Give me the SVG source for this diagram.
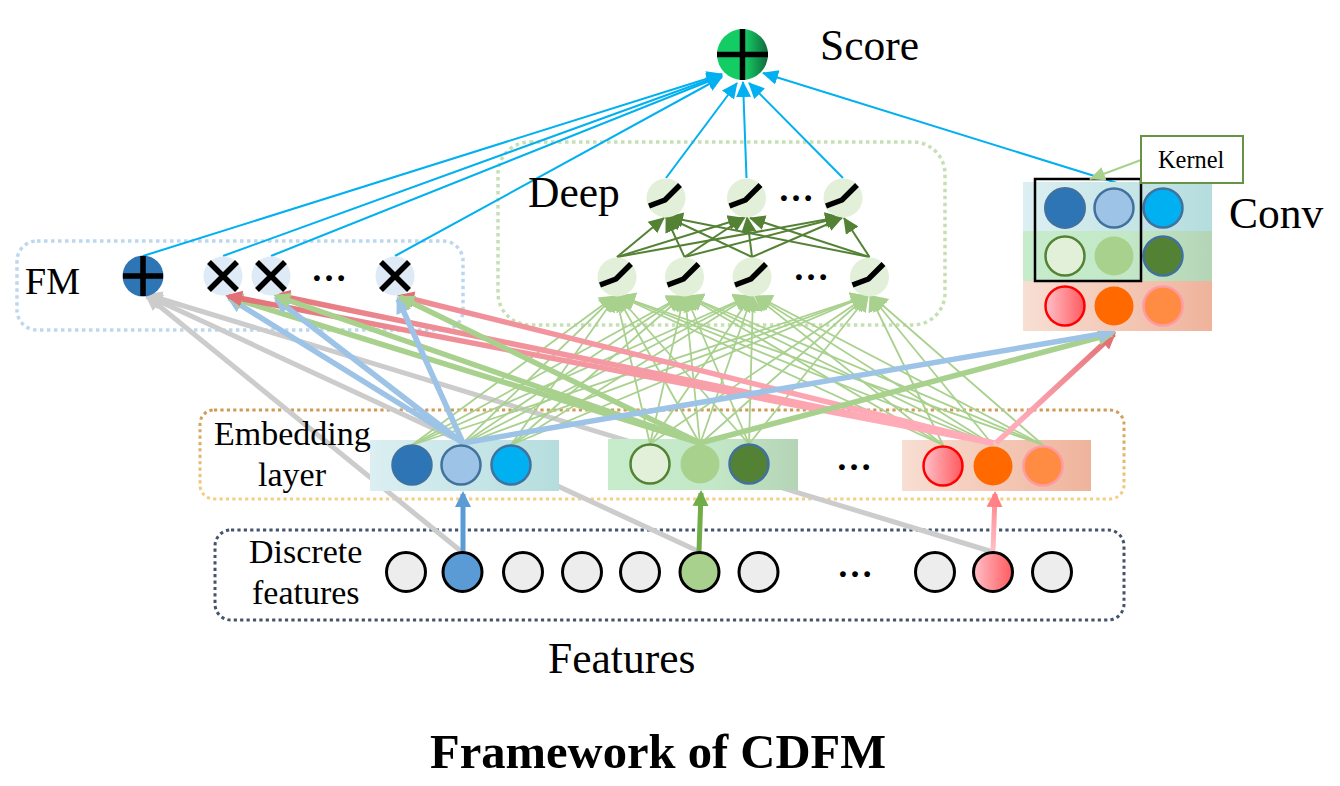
<svg xmlns="http://www.w3.org/2000/svg" width="1340" height="786" viewBox="0 0 1340 786">
<style>
text{font-family:"Liberation Serif","Times New Roman",serif;fill:#000}
.t43{font-size:43.500px}.t34{font-size:34px}.dots{font-size:36px;font-weight:bold}
.box{fill:none;stroke-width:3.500;stroke-dasharray:3.500 3.500}
.box2{fill:none;stroke-width:3;stroke-dasharray:3.200 3.200}
.sc{stroke:#00B0F0;stroke-width:2;marker-end:url(#hSky)}
.dg{stroke:#548235;stroke-width:2;marker-end:url(#hDark)}
.lg{stroke:#A9D18E;stroke-width:1.800;marker-end:url(#hLight)}
.gy{stroke:#CCCCCC;stroke-width:5;marker-end:url(#hGray)}
.bl{stroke:#9DC3E6;stroke-width:5.500;marker-end:url(#hBlue)}
.gn{stroke:#A9D18E;stroke-width:5.500;marker-end:url(#hGreen)}
.rd{stroke-width:5.500;marker-end:url(#hRed)}
.act{fill:none;stroke:#000;stroke-width:5.500}
.sym{stroke:#000;stroke-width:5.500;fill:none}
.nd{fill:#E2F0D9}.xn{fill:#DEEBF7}
.ft{fill:#EDEDED;stroke:#000;stroke-width:3}
</style>
<defs>
<marker id="hSky" markerUnits="userSpaceOnUse" markerWidth="22" markerHeight="22" refX="15" refY="11" orient="auto"><path d="M0,3.500 L16,11 L0,18.500Z" fill="#00B0F0"/></marker>
<marker id="hDark" markerUnits="userSpaceOnUse" markerWidth="22" markerHeight="22" refX="15" refY="11" orient="auto"><path d="M0,3.500 L16,11 L0,18.500Z" fill="#548235"/></marker>
<marker id="hLight" markerUnits="userSpaceOnUse" markerWidth="24" markerHeight="24" refX="15" refY="12" orient="auto"><path d="M0,3 L16,12 L0,21Z" fill="#A9D18E"/></marker>
<marker id="hGray" markerUnits="userSpaceOnUse" markerWidth="24" markerHeight="24" refX="14" refY="12" orient="auto"><path d="M0,4 L17,12 L0,20Z" fill="#CCCCCC"/></marker>
<marker id="hBlue" markerUnits="userSpaceOnUse" markerWidth="24" markerHeight="24" refX="14" refY="12" orient="auto"><path d="M0,4 L17,12 L0,20Z" fill="#9DC3E6"/></marker>
<marker id="hGreen" markerUnits="userSpaceOnUse" markerWidth="24" markerHeight="24" refX="14" refY="12" orient="auto"><path d="M0,4 L17,12 L0,20Z" fill="#A9D18E"/></marker>
<marker id="hRed" markerUnits="userSpaceOnUse" markerWidth="24" markerHeight="24" refX="14" refY="12" orient="auto"><path d="M0,4 L17,12 L0,20Z" fill="#E27076"/></marker>
<marker id="hF1" markerUnits="userSpaceOnUse" markerWidth="24" markerHeight="24" refX="13" refY="12" orient="auto"><path d="M0,4 L16,12 L0,20Z" fill="#5B9BD5"/></marker>
<marker id="hF2" markerUnits="userSpaceOnUse" markerWidth="24" markerHeight="24" refX="13" refY="12" orient="auto"><path d="M0,4 L16,12 L0,20Z" fill="#70AD47"/></marker>
<marker id="hF3" markerUnits="userSpaceOnUse" markerWidth="24" markerHeight="24" refX="13" refY="12" orient="auto"><path d="M0,4 L16,12 L0,20Z" fill="#FF8085"/></marker>
<marker id="hK" markerUnits="userSpaceOnUse" markerWidth="22" markerHeight="22" refX="15" refY="11" orient="auto"><path d="M0,4 L16,11 L0,18Z" fill="#A9D18E"/></marker>
<linearGradient id="gScore"><stop offset=".55" stop-color="#14CC64"/><stop offset="1" stop-color="#10693C"/></linearGradient>
<linearGradient id="gTeal"><stop offset="0" stop-color="#DCEFF2"/><stop offset="1" stop-color="#B5DDDE"/></linearGradient>
<linearGradient id="gGreen"><stop offset="0" stop-color="#C6ECCB"/><stop offset=".55" stop-color="#C3E8C8"/><stop offset="1" stop-color="#B4D4B6"/></linearGradient>
<linearGradient id="gRed"><stop offset="0" stop-color="#F8DED3"/><stop offset="1" stop-color="#EFB39B"/></linearGradient>
<linearGradient id="gPink"><stop offset="0" stop-color="#FFC0C8"/><stop offset="1" stop-color="#FF5A5F"/></linearGradient>
<linearGradient id="gEmb" gradientUnits="userSpaceOnUse" x1="0" y1="410" x2="0" y2="499"><stop offset="0" stop-color="#D09A55"/><stop offset="1" stop-color="#F6CF87"/></linearGradient>
<linearGradient id="gR1" gradientUnits="userSpaceOnUse" x1="993" y1="441" x2="227" y2="296"><stop offset=".15" stop-color="#FFABB8"/><stop offset=".75" stop-color="#EE8C94"/><stop offset="1" stop-color="#E27076"/></linearGradient>
<linearGradient id="gR2" gradientUnits="userSpaceOnUse" x1="993" y1="441" x2="1115" y2="335"><stop offset=".2" stop-color="#FFABB8"/><stop offset="1" stop-color="#E27076"/></linearGradient>
<linearGradient id="gF3" gradientUnits="userSpaceOnUse" x1="993" y1="552" x2="996" y2="491"><stop offset="0" stop-color="#FFC0C8"/><stop offset="1" stop-color="#FF8085"/></linearGradient>
</defs>

<g id="group-boxes">
<rect id="box-fm" class="box" x="17" y="241" width="446" height="89" rx="20" stroke="#BDD7EE"/>
<rect id="box-deep" class="box" x="498" y="142" width="447" height="183" rx="32" stroke="#C5E0B4"/>
<rect id="box-embedding" class="box2" x="200" y="410" width="924" height="89" rx="14" stroke="url(#gEmb)"/>
<rect id="box-discrete" class="box2" x="215" y="530" width="909" height="90" rx="16" stroke="#44546A"/>
</g>

<g id="connectors-under">
<line class="gy" x1="462" y1="552" x2="147" y2="296"/>
<line class="gy" x1="700" y1="552" x2="148" y2="296"/>
<line class="gy" x1="993" y1="552" x2="148" y2="295"/>
</g>

<g id="embedding-rows">
<rect x="370" y="440" width="189" height="51" fill="url(#gTeal)"/>
<rect x="608" y="439" width="190" height="51" fill="url(#gGreen)"/>
<rect x="902" y="440" width="189" height="51" fill="url(#gRed)"/>
</g>

<g id="connectors">
<g id="conn-score">
<line class="sc" x1="143" y1="256" x2="722" y2="74"/>
<line class="sc" x1="223" y1="256" x2="722" y2="75"/>
<line class="sc" x1="271" y1="256" x2="722" y2="76"/>
<line class="sc" x1="395" y1="256" x2="722" y2="77"/>
<line class="sc" x1="666" y1="178" x2="737" y2="83"/>
<line class="sc" x1="746.500" y1="178" x2="743" y2="82"/>
<line class="sc" x1="843" y1="178" x2="749" y2="83"/>
<line class="sc" x1="1117" y1="183" x2="763" y2="73"/>
</g>
<g id="conn-deep">
<line class="dg" x1="617" y1="257" x2="664" y2="218"/>
<line class="dg" x1="617" y1="257" x2="743" y2="218"/>
<line class="dg" x1="617" y1="257" x2="840" y2="217"/>
<line class="dg" x1="684.500" y1="257" x2="666" y2="217"/>
<line class="dg" x1="684.500" y1="257" x2="745" y2="217"/>
<line class="dg" x1="684.500" y1="257" x2="841" y2="217"/>
<line class="dg" x1="752" y1="257" x2="667" y2="217"/>
<line class="dg" x1="752" y1="257" x2="747" y2="217"/>
<line class="dg" x1="752" y1="257" x2="842" y2="218"/>
<line class="dg" x1="869.500" y1="257" x2="668" y2="217"/>
<line class="dg" x1="869.500" y1="257" x2="750" y2="218"/>
<line class="dg" x1="869.500" y1="257" x2="844" y2="218"/>
</g>
<g id="conn-embed-deep">
<line class="lg" x1="412" y1="445" x2="615" y2="296"/><line class="lg" x1="412" y1="445" x2="682" y2="296"/><line class="lg" x1="412" y1="445" x2="749" y2="296"/><line class="lg" x1="412" y1="445" x2="866" y2="296"/>
<line class="lg" x1="461" y1="445" x2="615" y2="296"/><line class="lg" x1="461" y1="445" x2="682" y2="296"/><line class="lg" x1="461" y1="445" x2="749" y2="296"/><line class="lg" x1="461" y1="445" x2="866" y2="296"/>
<line class="lg" x1="511" y1="445" x2="616" y2="296"/><line class="lg" x1="511" y1="445" x2="683" y2="296"/><line class="lg" x1="511" y1="445" x2="750" y2="296"/><line class="lg" x1="511" y1="445" x2="866" y2="296"/>
<line class="lg" x1="650" y1="444" x2="616" y2="296"/><line class="lg" x1="650" y1="444" x2="684" y2="296"/><line class="lg" x1="650" y1="444" x2="751" y2="296"/><line class="lg" x1="650" y1="444" x2="867" y2="296"/>
<line class="lg" x1="700" y1="444" x2="617" y2="296"/><line class="lg" x1="700" y1="444" x2="685" y2="296"/><line class="lg" x1="700" y1="444" x2="752" y2="296"/><line class="lg" x1="700" y1="444" x2="867" y2="296"/>
<line class="lg" x1="749" y1="444" x2="618" y2="296"/><line class="lg" x1="749" y1="444" x2="686" y2="296"/><line class="lg" x1="749" y1="444" x2="753" y2="296"/><line class="lg" x1="749" y1="444" x2="868" y2="296"/>
<line class="lg" x1="943" y1="445" x2="619" y2="296"/><line class="lg" x1="943" y1="445" x2="687" y2="296"/><line class="lg" x1="943" y1="445" x2="755" y2="296"/><line class="lg" x1="943" y1="445" x2="870" y2="296"/>
<line class="lg" x1="993" y1="445" x2="620" y2="296"/><line class="lg" x1="993" y1="445" x2="688" y2="296"/><line class="lg" x1="993" y1="445" x2="756" y2="296"/><line class="lg" x1="993" y1="445" x2="871" y2="296"/>
<line class="lg" x1="1043" y1="445" x2="620" y2="296"/><line class="lg" x1="1043" y1="445" x2="688" y2="296"/><line class="lg" x1="1043" y1="445" x2="757" y2="296"/><line class="lg" x1="1043" y1="445" x2="872" y2="296"/>
</g>
<g id="conn-thick">
<line class="bl" x1="463" y1="443" x2="229" y2="298"/>
<line class="gn" x1="700" y1="443" x2="229" y2="297"/>
<line class="rd" stroke="url(#gR1)" x1="993" y1="443" x2="228" y2="296"/>
<line class="rd" stroke="url(#gR1)" x1="993" y1="443" x2="276" y2="295"/>
<line class="bl" x1="463" y1="443" x2="276" y2="299"/>
<line class="gn" x1="700" y1="443" x2="276" y2="296"/>
<line class="rd" stroke="url(#gR1)" x1="993" y1="443" x2="400" y2="296"/>
<line class="bl" x1="463" y1="443" x2="398" y2="299"/>
<line class="gn" x1="700" y1="443" x2="400" y2="297"/>
<line class="rd" stroke="url(#gR2)" x1="996" y1="443" x2="1114" y2="334"/>
<line class="gn" x1="700" y1="443" x2="1112" y2="334"/>
<line class="bl" x1="463" y1="443" x2="1113" y2="332"/>
</g>
<g id="conn-features">
<line stroke="#5B9BD5" stroke-width="5" marker-end="url(#hF1)" x1="463" y1="552" x2="463" y2="494"/>
<line stroke="#70AD47" stroke-width="5" marker-end="url(#hF2)" x1="699" y1="552" x2="701" y2="493"/>
<line stroke="url(#gF3)" stroke-width="5" marker-end="url(#hF3)" x1="993" y1="552" x2="995" y2="494"/>
</g>
</g>

<g id="node-score">
<circle cx="742.500" cy="54.500" r="25.500" fill="url(#gScore)"/>
<path class="sym" d="M717,54.500H768M742.500,29V80"/>
</g>
<text class="t43" x="820" y="60">Score</text>

<g id="node-fm-sum">
<circle cx="143" cy="276" r="20.500" fill="#2E75B6"/>
<path class="sym" d="M123,276H163M143,256V296"/>
</g>
<g id="node-x1"><circle class="xn" cx="223" cy="276" r="19.500"/><path class="sym" d="M209,262L237,290M237,262L209,290"/></g>
<g id="node-x2"><circle class="xn" cx="271" cy="276" r="19.500"/><path class="sym" d="M257,262L285,290M285,262L257,290"/></g>
<g id="node-x3"><circle class="xn" cx="395" cy="276" r="19.500"/><path class="sym" d="M381,262L409,290M409,262L381,290"/></g>
<text class="dots" x="311" y="281">…</text>
<text x="25" y="294" font-size="38">FM</text>

<text class="t43" x="528" y="207">Deep</text>
<g id="node-u1"><circle class="nd" cx="666" cy="198" r="19.500"/><path class="act" d="M649,206L665,200L680,185"/></g>
<g id="node-u2"><circle class="nd" cx="746.500" cy="198" r="19.500"/><path class="act" d="M729.500,206L745.500,200L760.500,185"/></g>
<g id="node-u3"><circle class="nd" cx="843" cy="198" r="19.500"/><path class="act" d="M826,206L842,200L857,185"/></g>
<text class="dots" x="778" y="201">…</text>
<g id="node-l1"><circle class="nd" cx="617" cy="277" r="19.500"/><path class="act" d="M600,285L616,279L631,264"/></g>
<g id="node-l2"><circle class="nd" cx="684.500" cy="277" r="19.500"/><path class="act" d="M667.500,285L683.500,279L698.500,264"/></g>
<g id="node-l3"><circle class="nd" cx="752" cy="277" r="19.500"/><path class="act" d="M735,285L751,279L766,264"/></g>
<g id="node-l4"><circle class="nd" cx="869.500" cy="277" r="19.500"/><path class="act" d="M852.500,285L868.500,279L883.500,264"/></g>
<text class="dots" x="793" y="280">…</text>

<g id="node-conv">
<rect x="1023" y="182" width="189" height="50" fill="url(#gTeal)"/>
<rect x="1023" y="231" width="189" height="50" fill="url(#gGreen)"/>
<rect x="1023" y="281" width="189" height="50" fill="url(#gRed)"/>
<circle cx="1065" cy="208" r="20" fill="#2E75B6" stroke="#41719C" stroke-width="2"/>
<circle cx="1114" cy="208" r="19.500" fill="#9DC3E6" stroke="#41719C" stroke-width="2.500"/>
<circle cx="1163" cy="208" r="19.500" fill="#00B0F0" stroke="#41719C" stroke-width="2.500"/>
<circle cx="1065" cy="256" r="19.500" fill="#E2F0D9" stroke="#548235" stroke-width="2.500"/>
<circle cx="1114" cy="256" r="19.500" fill="#A9D18E"/>
<circle cx="1163" cy="256" r="19.500" fill="#548235" stroke="#41719C" stroke-width="2.500"/>
<circle cx="1065" cy="306" r="19.500" fill="url(#gPink)" stroke="#FF0000" stroke-width="2.500"/>
<circle cx="1114" cy="306" r="19.500" fill="#FF6900"/>
<circle cx="1163" cy="306" r="19.500" fill="#FF8C42" stroke="#FF9AA2" stroke-width="2.500"/>
<rect x="1035" y="179" width="106" height="102" fill="none" stroke="#000" stroke-width="2.500"/>
</g>
<g id="node-kernel">
<line x1="1141" y1="160" x2="1090" y2="179" stroke="#A9D18E" stroke-width="2" marker-end="url(#hK)"/>
<rect x="1141" y="136" width="102" height="47" fill="#fff" stroke="#669344" stroke-width="2"/>
<text x="1158" y="168" font-size="24.400">Kernel</text>
</g>
<text class="t43" x="1229" y="228">Conv</text>

<text class="t34" x="214" y="445">Embedding</text>
<text class="t34" x="258" y="486">layer</text>
<g id="node-emb-blue">
<circle cx="412" cy="465" r="20" fill="#2E75B6" stroke="#41719C" stroke-width="1.500"/>
<circle cx="461" cy="465" r="19.500" fill="#9DC3E6" stroke="#41719C" stroke-width="2.500"/>
<circle cx="511" cy="465" r="19.500" fill="#00B0F0" stroke="#41719C" stroke-width="2.500"/>
</g>
<g id="node-emb-green">
<circle cx="650" cy="464" r="19.500" fill="#E2F0D9" stroke="#548235" stroke-width="2.500"/>
<circle cx="700" cy="464" r="19.500" fill="#A9D18E"/>
<circle cx="749" cy="464" r="19.500" fill="#548235" stroke="#41719C" stroke-width="2.500"/>
</g>
<g id="node-emb-red">
<circle cx="943" cy="466" r="19.500" fill="url(#gPink)" stroke="#FF0000" stroke-width="2.500"/>
<circle cx="993" cy="466" r="19.500" fill="#FF6900"/>
<circle cx="1043" cy="466" r="19.500" fill="#FF8C42" stroke="#FF9AA2" stroke-width="2.500"/>
</g>
<text class="dots" x="836" y="470">…</text>

<text class="t34" x="249" y="563">Discrete</text>
<text class="t34" x="252" y="604">features</text>
<g id="node-features">
<circle class="ft" cx="406" cy="572" r="19.500"/>
<circle class="ft" cx="462.500" cy="572" r="19.500" style="fill:#5B9BD5"/>
<circle class="ft" cx="523" cy="572" r="19.500"/>
<circle class="ft" cx="582" cy="572" r="19.500"/>
<circle class="ft" cx="640" cy="572" r="19.500"/>
<circle class="ft" cx="699.500" cy="572" r="19.500" style="fill:#A9D18E"/>
<circle class="ft" cx="758.500" cy="572" r="19.500"/>
<circle class="ft" cx="935" cy="572" r="19.500"/>
<circle class="ft" cx="993" cy="572" r="19.500" style="fill:url(#gPink)"/>
<circle class="ft" cx="1052" cy="572" r="19.500"/>
</g>
<text class="dots" x="837" y="577">…</text>

<text class="t43" x="548" y="673">Features</text>
<text x="430" y="768" font-size="48.600" font-weight="bold">Framework of CDFM</text>
</svg>
